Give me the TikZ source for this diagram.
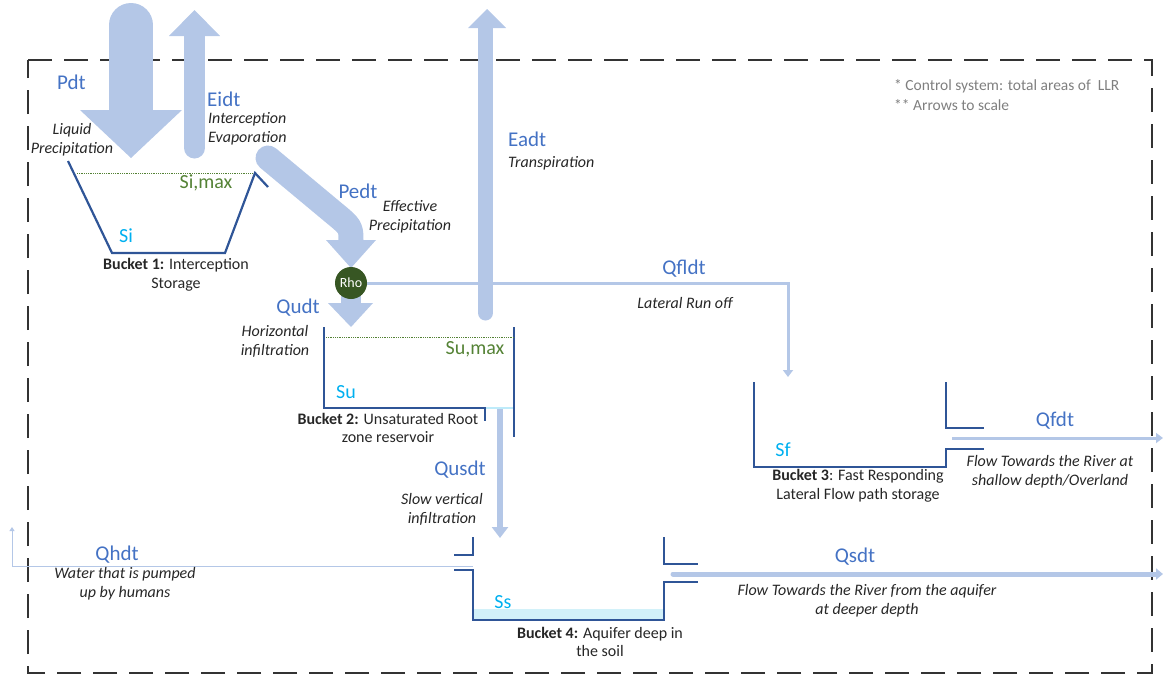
\documentclass[tikz,border=0pt]{standalone}
\usepackage{fontspec}
\setmainfont{Carlito}
\usetikzlibrary{arrows.meta}
\definecolor{lblue}{HTML}{B4C7E7}
\definecolor{tblue}{HTML}{4472C4}
\definecolor{dblue}{HTML}{2F5597}
\definecolor{gtext}{HTML}{548235}
\definecolor{scyan}{HTML}{00B0F0}
\definecolor{rhofill}{HTML}{375623}
\definecolor{water}{HTML}{D2F1F9}
\definecolor{notegray}{HTML}{7F7F7F}
\tikzset{
  flux/.style={inner sep=1pt,text=tblue,font=\fontsize{21}{23}\selectfont},
  desc/.style={inner sep=1pt,align=center,font=\fontsize{16}{19}\selectfont\itshape,text=black!85},
  blabel/.style={inner sep=1pt,align=center,font=\fontsize{16}{18.5}\selectfont,text=black!85},
  store/.style={inner sep=1pt,text=scyan,font=\fontsize{20}{22}\selectfont},
  maxl/.style={inner sep=1pt,text=gtext,font=\fontsize{20}{22}\selectfont},
  bucket/.style={draw=dblue,line width=2.2pt},
  maxline/.style={draw=gtext,densely dotted,line width=0.8pt},
  bigflow/.style={draw=lblue,line cap=round,line join=round},
  head/.style={fill=lblue,draw=none},
  rhonode/.style={circle,fill=rhofill,minimum size=32pt,inner sep=0pt,text=white,font=\fontsize{14}{15}\selectfont},
  thinflow/.style={draw=lblue,line width=3pt,-{Triangle[width=10pt,length=7pt]}},
  note/.style={inner sep=1pt,anchor=west,text=notegray,font=\fontsize{15.5}{18}\selectfont}
}
\begin{document}
\begin{tikzpicture}[x=1pt,y=-1pt]
\useasboundingbox (0,0) rectangle (1163,675);
% control system box
\draw[black!80,line width=1.8pt,dash pattern=on 24pt off 12pt] (28,60) -- (1152,60) -- (1152,673) -- (28,673) -- cycle;

% ---- Pdt arrow (down)
\draw[bigflow,line width=44pt] (131,25) -- (131,112);
\fill[head] (80,110) -- (182,110) -- (131,158) -- cycle;
% ---- Eidt arrow (up)
\draw[bigflow,line width=21pt] (194.5,148) -- (194.5,34);
\fill[head] (169,36) -- (220,36) -- (194.5,10) -- cycle;
% ---- Eadt arrow (up)
\draw[bigflow,line width=15pt] (485.5,313) -- (485.5,26);
\fill[head] (468,28) -- (506,28) -- (487,9) -- cycle;

% ---- Rho node and flows
\coordinate (rhoc) at (351,283);
\coordinate (pedtstart) at (268,158);
\coordinate (pedtbend) at (334,213);
\coordinate (pedtend) at (351,242);
\draw[bigflow,line width=25pt] (pedtstart) -- (pedtbend) .. controls (351,227) .. (pedtend);
\fill[head] (326,240) -- (376,240) -- (351,268) -- cycle;
% Qudt
\coordinate (qudtend) at (351,305);
\draw[draw=lblue,line width=20pt] (rhoc) -- (qudtend);
\fill[head] (328,303) -- (373,303) -- (351,327) -- cycle;
\node[rhonode] (rho) at (rhoc) {Rho};

% lateral runoff
\coordinate (latcorner) at (788,283);
\coordinate (latend) at (788,377);
\draw[thinflow] (rho.east) -- (latcorner) -- (latend);

% ---- Bucket 1
\draw[bucket,line join=miter] (68,161) -- (112,253) -- (225,253) -- (255,173) -- (268,187);
\draw[maxline] (77,173) -- (253,173);
\node[maxl] at (206,183) {Si,max};
\node[store] at (126,236) {Si};
\node[blabel] at (176,275) {\textbf{Bucket 1:} Interception\\Storage};

% ---- Bucket 2
\draw[draw=water!70!scyan!60,line width=2pt] (324,407.5) -- (514,407.5);
\draw[bucket] (324,327) -- (324,408) -- (485,408) -- (485,421);
\draw[bucket] (514,327) -- (514,437);
\draw[maxline] (326,337) -- (514,337);
\node[maxl] at (475,349) {Su,max};
\node[store] at (346,392) {Su};
\node[blabel] at (388,428) {\textbf{Bucket 2:} Unsaturated Root\\zone reservoir};

% Qusdt
\coordinate (qustop) at (500,409);
\coordinate (qusend) at (500,538);
\draw[draw=lblue,line width=6pt,-{Triangle[width=16pt,length=11pt]}] (qustop) -- (qusend);

% ---- Bucket 3
\draw[bucket] (754,382) -- (754,467) -- (946,467) -- (946,449) -- (984,449);
\draw[bucket] (946,382) -- (946,428) -- (984,428);
\node[store] at (783,450) {Sf};
\node[blabel] at (858,486) {\textbf{Bucket 3}: Fast Responding\\Lateral Flow path storage};
\coordinate (qfdtstart) at (952,438);
\coordinate (qfdtend) at (1163,438);
\draw[thinflow] (qfdtstart) -- (qfdtend);

% ---- Bucket 4
\fill[water] (473,609) rectangle (664,620);
\draw[bucket] (454,555) -- (473,555) -- (473,537);
\draw[bucket] (454,570) -- (473,570) -- (473,620) -- (664,620) -- (664,582) -- (698,582);
\draw[bucket] (664,537) -- (664,564) -- (698,564);
\node[store] at (503,602) {Ss};
\node[blabel] at (600,642) {\textbf{Bucket 4:} Aquifer deep in\\the soil};
% Qsdt
\coordinate (qsdtstart) at (673,574);
\coordinate (qsdtend) at (1163,574);
\draw[draw=lblue,line width=5pt,line cap=round,-{Triangle[width=11pt,length=7pt]}] (qsdtstart) -- (qsdtend);
% Qhdt
\coordinate (qhdtstart) at (473,566);
\coordinate (qhdtcorner) at (12,566);
\coordinate (qhdtend) at (12,527);
\draw[draw=lblue,line width=1pt,-{Triangle[width=5pt,length=4pt]}] (qhdtstart) -- (qhdtcorner) -- (qhdtend);

% ---- labels
\node[flux,anchor=west] at (56,82) {Pdt};
\node[desc] at (72,140) {Liquid\\Precipitation};
\node[flux,anchor=west] at (206,99) {Eidt};
\node[desc,align=left,anchor=west] at (207,129) {Interception\\Evaporation};
\node[flux] at (358,191) {Pedt};
\node[desc] at (410,217) {Effective\\Precipitation};
\node[flux,anchor=west] at (507,139) {Eadt};
\node[desc,anchor=west] at (507,163) {Transpiration};
\node[flux] at (684,269) {Qfldt};
\node[desc] at (685,303) {Lateral Run off};
\node[flux] at (298,308) {Qudt};
\node[desc] at (275,341) {Horizontal\\infiltration};
\node[flux] at (460,470) {Qusdt};
\node[desc] at (442,509) {Slow vertical\\infiltration};
\node[flux] at (1055,421) {Qfdt};
\node[desc] at (1050,472) {Flow Towards the River at\\shallow depth/Overland};
\node[flux] at (855,557) {Qsdt};
\node[desc] at (867,601) {Flow Towards the River from the aquifer\\at deeper depth};
\node[flux] at (117,555) {Qhdt};
\node[desc] at (125,584) {Water that is pumped\\up by humans};
\node[note] at (893,86) {* Control system: total areas of\ \ LLR};
\node[note] at (893,105) {** Arrows to scale};
\end{tikzpicture}
\end{document}
